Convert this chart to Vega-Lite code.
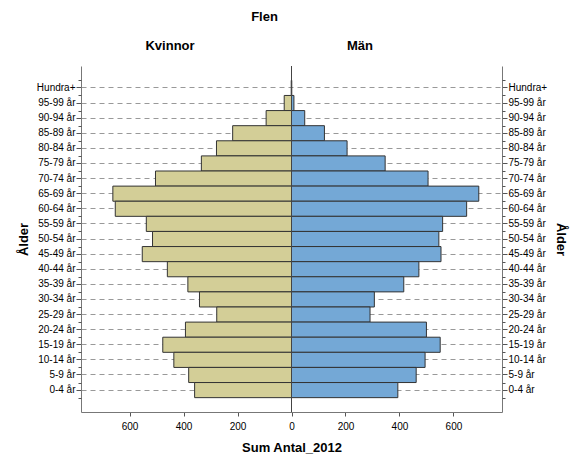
{
  "$schema": "https://vega.github.io/schema/vega-lite/v6.json",
  "width": 421,
  "height": 346,
  "padding": {"left": 17, "top": 11, "right": 5, "bottom": 5},
  "background": "white",
  "title": {"text": "Flen", "fontSize": 13, "fontWeight": "bold", "font": "Liberation Sans", "color": "#000", "dx": -27, "offset": 15},
  "config": {
    "font": "Liberation Sans",
    "view": {"stroke": null},
    "axis": {"labelFont": "Liberation Sans", "titleFont": "Liberation Sans", "labelColor": "#000", "titleColor": "#000", "labelFontSize": 10, "titleFontSize": 13, "titleFontWeight": "bold", "domainColor": "#777", "tickColor": "#555"}
  },
  "data": {"values": [
    {"age": "Hundra+", "sex": "Kvinnor", "value": 1}, {"age": "Hundra+", "sex": "Män", "value": 1},
    {"age": "95-99 år", "sex": "Kvinnor", "value": 27}, {"age": "95-99 år", "sex": "Män", "value": 9},
    {"age": "90-94 år", "sex": "Kvinnor", "value": 94}, {"age": "90-94 år", "sex": "Män", "value": 49},
    {"age": "85-89 år", "sex": "Kvinnor", "value": 218}, {"age": "85-89 år", "sex": "Män", "value": 122},
    {"age": "80-84 år", "sex": "Kvinnor", "value": 278}, {"age": "80-84 år", "sex": "Män", "value": 206},
    {"age": "75-79 år", "sex": "Kvinnor", "value": 334}, {"age": "75-79 år", "sex": "Män", "value": 347},
    {"age": "70-74 år", "sex": "Kvinnor", "value": 504}, {"age": "70-74 år", "sex": "Män", "value": 506},
    {"age": "65-69 år", "sex": "Kvinnor", "value": 662}, {"age": "65-69 år", "sex": "Män", "value": 694},
    {"age": "60-64 år", "sex": "Kvinnor", "value": 653}, {"age": "60-64 år", "sex": "Män", "value": 649},
    {"age": "55-59 år", "sex": "Kvinnor", "value": 538}, {"age": "55-59 år", "sex": "Män", "value": 560},
    {"age": "50-54 år", "sex": "Kvinnor", "value": 515}, {"age": "50-54 år", "sex": "Män", "value": 546},
    {"age": "45-49 år", "sex": "Kvinnor", "value": 553}, {"age": "45-49 år", "sex": "Män", "value": 554},
    {"age": "40-44 år", "sex": "Kvinnor", "value": 460}, {"age": "40-44 år", "sex": "Män", "value": 472},
    {"age": "35-39 år", "sex": "Kvinnor", "value": 384}, {"age": "35-39 år", "sex": "Män", "value": 416},
    {"age": "30-34 år", "sex": "Kvinnor", "value": 341}, {"age": "30-34 år", "sex": "Män", "value": 307},
    {"age": "25-29 år", "sex": "Kvinnor", "value": 277}, {"age": "25-29 år", "sex": "Män", "value": 291},
    {"age": "20-24 år", "sex": "Kvinnor", "value": 393}, {"age": "20-24 år", "sex": "Män", "value": 500},
    {"age": "15-19 år", "sex": "Kvinnor", "value": 477}, {"age": "15-19 år", "sex": "Män", "value": 551},
    {"age": "10-14 år", "sex": "Kvinnor", "value": 436}, {"age": "10-14 år", "sex": "Män", "value": 495},
    {"age": "5-9 år", "sex": "Kvinnor", "value": 381}, {"age": "5-9 år", "sex": "Män", "value": 462},
    {"age": "0-4 år", "sex": "Kvinnor", "value": 359}, {"age": "0-4 år", "sex": "Män", "value": 394}
  ]},
  "transform": [{"calculate": "datum.sex == 'Kvinnor' ? -datum.value : datum.value", "as": "signed"}],
  "layer": [
    {
      "transform": [{"filter": "datum.sex == 'Kvinnor'"}],
      "mark": {"type": "bar", "fill": "#D3CE97", "stroke": "#333", "strokeWidth": 1},
      "encoding": {
        "x": {"field": "signed", "type": "quantitative",
          "scale": {"domain": [-780, 780], "nice": false, "zero": false},
          "axis": {"orient": "bottom", "values": [-600, -400, -200, 0, 200, 400, 600], "labelExpr": "abs(datum.value)", "title": "Sum Antal_2012", "grid": false, "tickSize": 4, "labelPadding": 5, "titlePadding": 10}},
        "y": {"field": "age", "type": "nominal",
          "scale": {"domain": ["Hundra+", "95-99 år", "90-94 år", "85-89 år", "80-84 år", "75-79 år", "70-74 år", "65-69 år", "60-64 år", "55-59 år", "50-54 år", "45-49 år", "40-44 år", "35-39 år", "30-34 år", "25-29 år", "20-24 år", "15-19 år", "10-14 år", "5-9 år", "0-4 år"], "paddingInner": 0, "paddingOuter": 0.95},
          "axis": {"orient": "left", "title": "Ålder", "grid": true, "gridDash": [5, 4], "gridColor": "#999", "tickSize": 5, "labelPadding": 1, "titlePadding": 6}}
      }
    },
    {
      "transform": [{"filter": "datum.sex == 'Män'"}],
      "mark": {"type": "bar", "fill": "#74A8D6", "stroke": "#333", "strokeWidth": 1},
      "encoding": {
        "x": {"field": "signed", "type": "quantitative",
          "axis": {"orient": "top", "values": [-452, 252], "labelExpr": "datum.value < 0 ? 'Kvinnor' : 'Män'", "title": null, "grid": false, "ticks": false, "domain": false, "labelFontSize": 13, "labelFontWeight": "bold", "labelPadding": 14}},
        "y": {"field": "age", "type": "nominal",
          "axis": {"orient": "right", "title": "Ålder", "grid": false, "tickSize": 5, "labelPadding": 1, "titlePadding": 7}}
      }
    },
    {
      "transform": [{"filter": "datum.sex == 'Kvinnor'"}],
      "mark": {"type": "rule", "opacity": 0},
      "encoding": {
        "y": {"field": "age", "type": "nominal",
          "axis": {"orient": "left", "title": null, "labels": false, "domain": false, "grid": false, "tickBand": "extent", "tickSize": 3}}
      }
    },
    {
      "transform": [{"filter": "datum.sex == 'Män'"}],
      "mark": {"type": "rule", "opacity": 0},
      "encoding": {
        "y": {"field": "age", "type": "nominal",
          "axis": {"orient": "right", "title": null, "labels": false, "domain": false, "grid": false, "tickBand": "extent", "tickSize": 3}}
      }
    },
    {
      "mark": {"type": "rule", "color": "#444", "strokeWidth": 1},
      "encoding": {"x": {"datum": 0, "axis": null}}
    }
  ],
  "resolve": {"axis": {"x": "independent", "y": "independent"}}
}
